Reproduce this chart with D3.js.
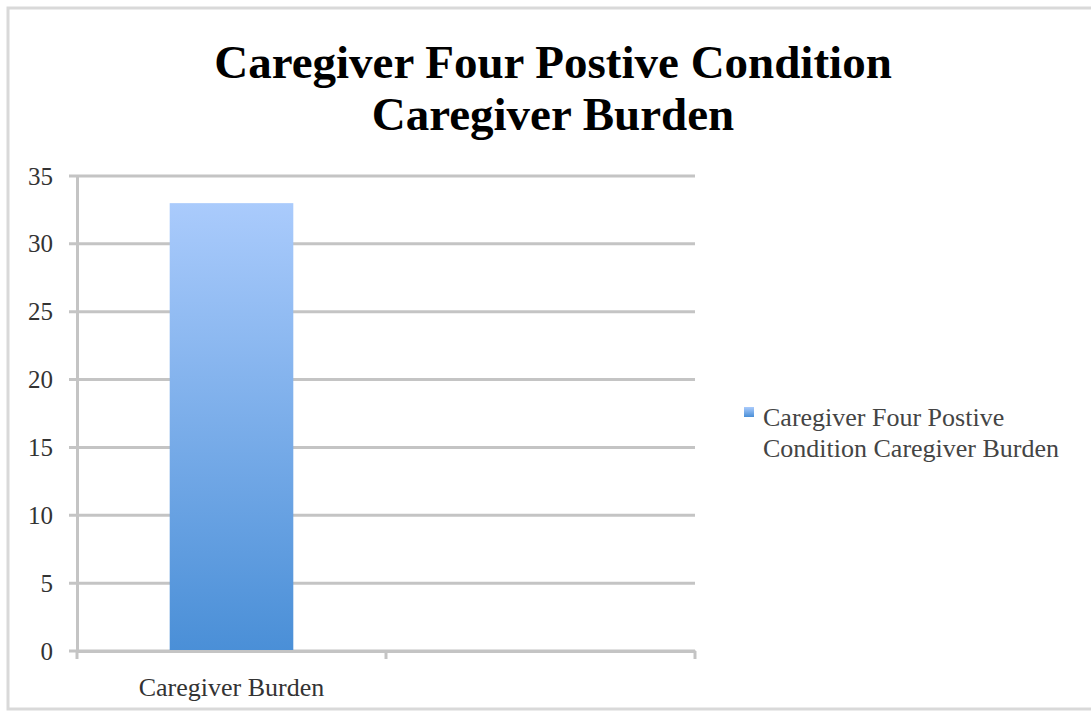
<!DOCTYPE html>
<html>
<head>
<meta charset="utf-8">
<script src="https://cdn.jsdelivr.net/npm/d3@7"></script>
<style>
  body { margin: 0; background: #fff; }
  text { font-family: "Liberation Serif", "DejaVu Serif", serif; }
</style>
</head>
<body>
<div id="chart"></div>
<script>
// data
var titleLines = ["Caregiver Four Postive Condition", "Caregiver Burden"];
var categories = ["Caregiver Burden", ""];
var values = [33, null];
var seriesName = ["Caregiver Four Postive", "Condition Caregiver Burden"];
var yTicks = [0, 5, 10, 15, 20, 25, 30, 35];

// dimensions
var width = 1091;
var height = 711;
var margin = { top: 176, left: 77, right: 396 };
var plotW = width - margin.left - margin.right;

var svg = d3.select("#chart")
    .append("svg")
    .attr("width", width)
    .attr("height", height);

// outer frame
svg.append("path")
    .attr("d", "M" + width + ",8H8V709H" + width)
    .attr("fill", "none")
    .attr("stroke", "#d9d9d9")
    .attr("stroke-width", 3);

// bar gradient
var grad = svg.append("defs").append("linearGradient")
    .attr("id", "barGrad")
    .attr("x1", 0).attr("y1", 0).attr("x2", 0).attr("y2", 1);
grad.append("stop").attr("offset", "0%").attr("stop-color", "#aacbfc");
grad.append("stop").attr("offset", "100%").attr("stop-color", "#4a8fd7");

// title
svg.append("g").selectAll("text")
    .data(titleLines)
    .enter()
    .append("text")
    .attr("x", 553)
    .attr("y", function (d, i) { return 78 + i * 52; })
    .attr("text-anchor", "middle")
    .attr("font-size", "47px")
    .attr("font-weight", 700)
    .attr("fill", "#000")
    .text(function (d) { return d; });

var x = d3.scaleBand()
    .domain(categories)
    .range([0, plotW]);

var y = d3.scaleLinear()
    .domain([0, 35])
    .range([651 - margin.top, 0]);

var g = svg.append("g")
    .attr("transform", "translate(" + margin.left + "," + margin.top + ")");

// gridlines
g.append("g")
    .selectAll("line")
    .data(yTicks)
    .enter()
    .append("line")
    .attr("x1", -8)
    .attr("x2", plotW)
    .attr("y1", function (d) { return y(d); })
    .attr("y2", function (d) { return y(d); })
    .attr("stroke", "#c4c4c4")
    .attr("stroke-width", 3);

// y axis
var yAxis = g.append("g")
    .call(d3.axisLeft(y).tickValues(yTicks).tickSize(0).tickPadding(24));
yAxis.select(".domain")
    .attr("stroke", "#c4c4c4")
    .attr("stroke-width", 3);
yAxis.selectAll("text")
    .attr("font-family", "Liberation Serif")
    .attr("font-size", "25px")
    .attr("fill", "#333");

// bars
g.append("g")
    .selectAll("rect")
    .data(categories.filter(function (d, i) { return values[i] != null; }))
    .enter()
    .append("rect")
    .attr("x", function (d) { return x(d) + x.bandwidth() * 0.3; })
    .attr("width", x.bandwidth() * 0.4)
    .attr("y", function (d) { return y(values[categories.indexOf(d)]); })
    .attr("height", function (d) { return y(0) - y(values[categories.indexOf(d)]); })
    .attr("fill", "url(#barGrad)");

// x axis
var xAxis = g.append("g")
    .attr("transform", "translate(0," + y(0) + ")")
    .call(d3.axisBottom(x).tickSize(0).tickPadding(27));
xAxis.select(".domain")
    .attr("stroke", "#c4c4c4")
    .attr("stroke-width", 3);
xAxis.selectAll("text")
    .attr("font-family", "Liberation Serif")
    .attr("font-size", "26px")
    .attr("fill", "#333");

// category separator ticks
g.append("g")
    .selectAll("line")
    .data([0, plotW / 2, plotW])
    .enter()
    .append("line")
    .attr("x1", function (d) { return d; })
    .attr("x2", function (d) { return d; })
    .attr("y1", y(0))
    .attr("y2", y(0) + 8)
    .attr("stroke", "#c4c4c4")
    .attr("stroke-width", 3);

// legend
var legend = svg.append("g")
    .attr("transform", "translate(744,407)");
legend.append("rect")
    .attr("width", 10)
    .attr("height", 10)
    .attr("fill", "url(#barGrad)");
legend.selectAll("text")
    .data(seriesName)
    .enter()
    .append("text")
    .attr("x", 19)
    .attr("y", function (d, i) { return 19 + i * 31; })
    .attr("font-size", "26px")
    .attr("fill", "#444")
    .text(function (d) { return d; });
</script>
</body>
</html>
